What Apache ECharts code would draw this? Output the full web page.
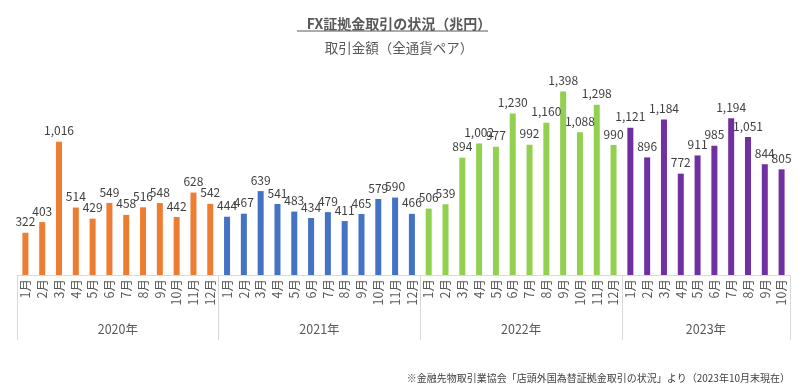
<!DOCTYPE html>
<html><head><meta charset="utf-8">
<script src="https://cdn.jsdelivr.net/npm/echarts@6/dist/echarts.min.js"></script>
<style>html,body{margin:0;padding:0;background:#fff}#c{width:798px;height:386px}</style>
</head><body><div id="c"></div>
<script>
const years = ['2020年','2021年','2022年','2023年'];
const months = ['1月','2月','3月','4月','5月','6月','7月','8月','9月','10月','11月','12月'];
const v2020 = [322,403,1016,514,429,549,458,516,548,442,628,542];
const v2021 = [444,467,639,541,483,434,479,411,465,579,590,466];
const v2022 = [506,539,894,1002,977,1230,992,1160,1398,1088,1298,990];
const v2023 = [1121,896,1184,772,911,985,1194,1051,844,805];
const colors = ['#ED7D31','#4472C4','#92D050','#7030A0'];

const groups = [v2020,v2021,v2022,v2023];
const cats = [], data = [], bounds = [0], centers = [];
let n = 0;
groups.forEach((g, gi) => {
  g.forEach((v, i) => { cats.push(months[i]); data.push({value: v, itemStyle: {color: colors[gi]}}); });
  centers.push(n + g.length / 2);
  n += g.length;
  bounds.push(n);
});
const font = '"Noto Sans CJK JP", "Noto Sans", sans-serif';
const chart = echarts.init(document.getElementById('c'), null, {renderer: 'canvas'});
chart.setOption({
  animation: false,
  title: [
    {text: 'FX証拠金取引の状況（兆円）', left: 'center', top: 12,
     textStyle: {fontFamily: font, fontSize: 14, fontWeight: 'bold', color: '#595959'}},
    {text: '取引金額（全通貨ペア）', left: 'center', top: 36,
     textStyle: {fontFamily: font, fontSize: 13.5, fontWeight: 'normal', color: '#595959'}},
    {text: '※金融先物取引業協会「店頭外国為替証拠金取引の状況」より（2023年10月末現在）', right: 8, top: 373,
     padding: 0,
     textStyle: {fontFamily: font, fontSize: 10, fontWeight: 'normal', color: '#404040'}}
  ],
  graphic: [{type: 'line', shape: {x1: 297, y1: 31, x2: 488, y2: 31}, style: {stroke: '#595959', lineWidth: 1}}],
  grid: {left: 17, right: 8, top: 65, bottom: 111},
  xAxis: [
    {type: 'category', data: cats, boundaryGap: true,
     axisLine: {lineStyle: {color: '#D9D9D9'}}, axisTick: {show: false},
     axisLabel: {rotate: 90, interval: 0, margin: 4, fontFamily: font, fontSize: 12.5, color: '#595959'}},
    {type: 'value', min: 0, max: n, position: 'bottom', offset: 65,
     axisLine: {show: false, onZero: false}, splitLine: {show: false},
     axisTick: {show: true, inside: true, length: 65, customValues: bounds, lineStyle: {color: '#D9D9D9'}},
     axisLabel: {show: true, inside: true, margin: 4, customValues: centers,
       formatter: v => years[centers.indexOf(v)] || '', fontFamily: font, fontSize: 12.5, color: '#595959'}}
  ],
  yAxis: {type: 'value', min: 0, max: 1600, show: false, splitLine: {show: false}},
  series: [{
    type: 'bar', xAxisIndex: 0, data: data, barWidth: 6,
    label: {show: true, position: 'top', distance: 5, fontFamily: font, fontSize: 12, color: '#404040',
      formatter: p => p.value.toLocaleString('en-US')}
  }]
});
</script></body></html>
